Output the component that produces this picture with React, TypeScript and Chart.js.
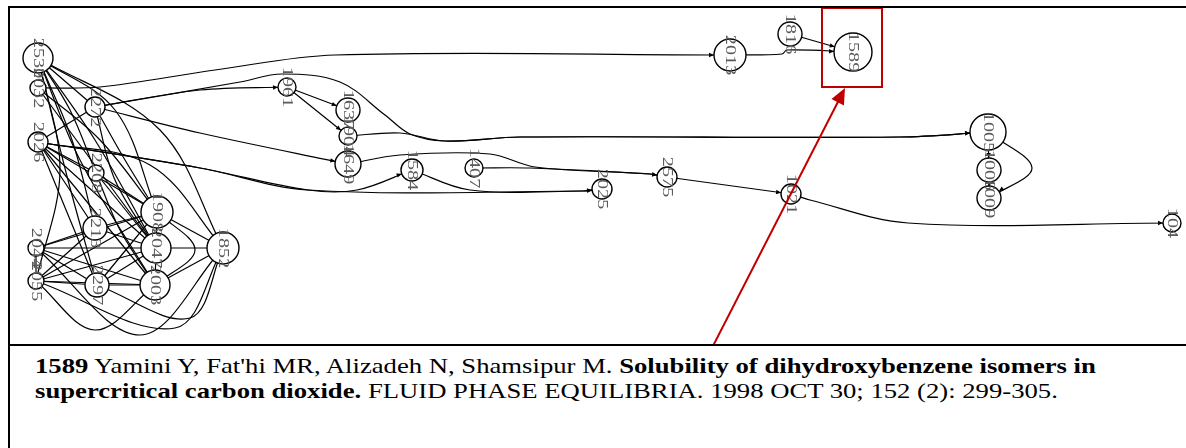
import React, { useEffect, useRef } from 'react';
import { Chart, registerables } from 'chart.js';

Chart.register(...registerables);

// ---- Node data (network layout) ----
const nodeLabels = ['2530', '2032', '2026', '2044', '2055', '2272', '2208', '2213', '2297', '1908', '2047', '2003', '1852',
  '1961', '1637', '1904', '1649', '1584', '1407', '2025', '2575', '1021', '2013', '1816', '1589', '1005', '1006', '1009', '104'];
const nodeX = [38, 38, 38, 36, 36, 95, 96, 95, 97, 157, 156, 155, 223,
  287, 348, 348, 348, 412, 474, 602, 667, 791, 730, 790, 853, 988, 989, 989, 1172];
const nodeY = [58, 88, 142, 248, 281, 107, 173, 228, 285, 212, 248, 285, 248,
  87, 110, 136, 164, 170, 168, 189, 177, 194, 55, 34, 52, 132, 170, 198, 223];
const nodeSize = [15, 8, 10, 8, 8, 10, 8, 12, 12, 16, 15, 15, 16,
  9, 12, 9, 13, 11, 9, 10, 10, 10, 16, 12, 19, 18, 12, 12, 9];

// ---- Edges: [from, to, routing points] ----
const longEdges: [string, string, number[][]][] = [
  ['2032', '2013', [[100, 87], [215, 70], [335, 55]]],
  ['2272', '1961', [[200, 90]]],
  ['2272', '1005', [[240, 82], [282, 74], [340, 82], [385, 115], [410, 134], [445, 141], [520, 137], [900, 137]]],
  ['1961', '1637', []],
  ['1961', '1904', []],
  ['1904', '1005', [[400, 133], [445, 141], [520, 137], [900, 137]]],
  ['2272', '1649', [[200, 133]]],
  ['1649', '2575', [[400, 155], [490, 154], [535, 167], [650, 174]]],
  ['1407', '2575', [[530, 168], [650, 174]]],
  ['2026', '2025', [[200, 168], [308, 190], [583, 191]]],
  ['2026', '1584', [[200, 168], [308, 190], [357, 190]]],
  ['1584', '2025', [[470, 190], [583, 191]]],
  ['2575', '1021', []],
  ['1021', '104', [[810, 200], [908, 223]]],
  ['2013', '1589', [[782, 54], [787, 50]]],
  ['1816', '1589', []],
  ['1005', '1006', []],
  ['1006', '1009', []],
  ['1005', '1009', [[1032, 168]]],
];

const clusterEdges: [string, string, number[][]][] = [
  ['2530', '2272', []],
  ['2530', '2208', [[70, 110]]],
  ['2530', '2213', [[72, 140]]],
  ['2530', '2297', [[68, 180]]],
  ['2530', '1908', [[115, 110]]],
  ['2530', '2047', [[95, 140]]],
  ['2530', '2003', [[80, 160]]],
  ['2530', '2055', [[60, 170]]],
  ['2530', '1852', [[160, 130]]],
  ['2032', '1908', [[100, 140]]],
  ['2032', '2047', []],
  ['2026', '2272', []],
  ['2026', '2208', []],
  ['2026', '2213', []],
  ['2026', '2297', []],
  ['2026', '1908', []],
  ['2026', '2047', []],
  ['2026', '2003', []],
  ['2026', '1852', [[150, 165]]],
  ['2044', '2055', []],
  ['2044', '2213', []],
  ['2044', '2297', []],
  ['2044', '1908', []],
  ['2044', '2047', []],
  ['2044', '2003', []],
  ['2044', '1852', [[140, 335]]],
  ['2055', '2213', []],
  ['2055', '2297', []],
  ['2055', '1908', []],
  ['2055', '2047', []],
  ['2055', '2003', []],
  ['2055', '1852', [[175, 328]]],
  ['2055', '2003', [[95, 330]]],
  ['2208', '1908', []],
  ['2208', '2047', []],
  ['2208', '2003', [[120, 230]]],
  ['2213', '1908', []],
  ['2213', '2047', []],
  ['2297', '2003', []],
  ['2297', '2047', []],
  ['2297', '1908', []],
  ['2297', '1852', [[190, 318]]],
  ['1908', '2047', []],
  ['2047', '2003', []],
  ['1908', '1852', []],
  ['2047', '1852', []],
  ['2003', '1852', []],
  ['1908', '2003', [[195, 250]]],
  ['2272', '1908', [[125, 160]]],
  ['2272', '2047', [[115, 180]]],
];

const captionNumber = '1589';
const captionAuthors = " Yamini Y, Fat'hi MR, Alizadeh N, Shamsipur M. ";
const captionTitle1 = 'Solubility of dihydroxybenzene isomers in';
const captionTitle2 = 'supercritical carbon dioxide.';
const captionSource = ' FLUID PHASE EQUILIBRIA. 1998 OCT 30; 152 (2): 299-305.';

const highlighted = '1589';
const RED = '#c00000';

function idx(label: string) {
  return nodeLabels.indexOf(label);
}

const overlayPlugin = {
  id: 'graphOverlay',
  afterDatasetsDraw(chart: any) {
    const ctx = chart.ctx;
    const xs = chart.scales.x;
    const ys = chart.scales.y;
    // arrowheads on the routed links
    ctx.save();
    ctx.fillStyle = '#000';
    longEdges.forEach(([f, t, via]) => {
      const ti = idx(t);
      const fi = idx(f);
      const prev = via.length ? via[via.length - 1] : [nodeX[fi], nodeY[fi]];
      const tx = xs.getPixelForValue(nodeX[ti]);
      const ty = ys.getPixelForValue(nodeY[ti]);
      const px = xs.getPixelForValue(prev[0]);
      const py = ys.getPixelForValue(prev[1]);
      const ang = Math.atan2(ty - py, tx - px);
      const r = nodeSize[ti];
      const ex = tx - Math.cos(ang) * r;
      const ey = ty - Math.sin(ang) * r;
      ctx.save();
      ctx.translate(ex, ey);
      ctx.rotate(ang);
      ctx.beginPath();
      ctx.moveTo(0, 0);
      ctx.lineTo(-5, -2.2);
      ctx.lineTo(-5, 2.2);
      ctx.closePath();
      ctx.fill();
      ctx.restore();
    });
    ctx.restore();
    // rotated labels
    ctx.save();
    ctx.fillStyle = '#5a5a5a';
    ctx.font = '15px "Liberation Serif", serif';
    ctx.textAlign = 'center';
    ctx.textBaseline = 'middle';
    nodeLabels.forEach((t, i) => {
      const px = xs.getPixelForValue(nodeX[i]);
      const py = ys.getPixelForValue(nodeY[i]);
      ctx.save();
      ctx.translate(px, py);
      ctx.rotate(Math.PI / 2);
      ctx.scale(1.35, 1);
      ctx.fillText(t, 0, 0);
      ctx.restore();
    });
    ctx.restore();
  },
  afterDraw(chart: any) {
    const ctx = chart.ctx;
    const xs = chart.scales.x;
    const ys = chart.scales.y;
    const hi = idx(highlighted);
    const cx = nodeX[hi];
    const cy = nodeY[hi];
    const x0 = xs.getPixelForValue(cx - 31);
    const x1 = xs.getPixelForValue(cx + 29);
    const y0 = ys.getPixelForValue(cy - 44);
    const y1 = ys.getPixelForValue(cy + 35);
    ctx.save();
    ctx.strokeStyle = RED;
    ctx.fillStyle = RED;
    ctx.lineWidth = 2;
    ctx.strokeRect(x0, y0, x1 - x0, y1 - y0);
    // arrow from caption to box
    const sx = xs.getPixelForValue(713);
    const sy = chart.height + 2;
    const tx = xs.getPixelForValue(cx - 8);
    const ty = y1 + 1;
    const ang = Math.atan2(ty - sy, tx - sx);
    ctx.beginPath();
    ctx.moveTo(sx, sy);
    ctx.lineTo(tx - Math.cos(ang) * 12, ty - Math.sin(ang) * 12);
    ctx.stroke();
    ctx.translate(tx, ty);
    ctx.rotate(ang);
    ctx.beginPath();
    ctx.moveTo(0, 0);
    ctx.lineTo(-16, -7);
    ctx.lineTo(-16, 7);
    ctx.closePath();
    ctx.fill();
    ctx.restore();
  },
};

function NetworkChart() {
  const ref = useRef<HTMLCanvasElement | null>(null);
  useEffect(() => {
    if (!ref.current) return;
    const nodeData = nodeX.map((x, i) => ({ x, y: nodeY[i] }));
    const edgeSets = [...longEdges, ...clusterEdges].map(([f, t, via]) => {
      const fi = idx(f);
      const ti = idx(t);
      const pts = [{ x: nodeX[fi], y: nodeY[fi] }, ...via.map((p) => ({ x: p[0], y: p[1] })), { x: nodeX[ti], y: nodeY[ti] }];
      return {
        type: 'line' as const,
        data: pts,
        borderColor: '#000',
        borderWidth: 1.2,
        pointRadius: 0,
        tension: 0.35,
        fill: false,
        order: 1,
      };
    });
    const chart = new Chart(ref.current, {
      type: 'scatter',
      data: {
        datasets: [
          {
            type: 'scatter',
            data: nodeData,
            pointRadius: nodeSize,
            pointHoverRadius: nodeSize,
            pointBackgroundColor: '#fff',
            pointBorderColor: '#000',
            pointBorderWidth: 1.4,
            order: 0,
          } as any,
          ...(edgeSets as any[]),
        ],
      },
      options: {
        animation: false,
        responsive: false,
        maintainAspectRatio: false,
        events: [],
        layout: { padding: 0, autoPadding: false },
        plugins: { legend: { display: false }, tooltip: { enabled: false } },
        scales: {
          x: { type: 'linear', min: 10, max: 1186, display: false },
          y: { type: 'linear', min: 8, max: 344, reverse: true, display: false },
        },
      },
      plugins: [overlayPlugin],
    });
    return () => chart.destroy();
  }, []);
  return <canvas ref={ref} width={1176} height={336} style={{ display: 'block', width: 1176, height: 336 }} />;
}

export default function App() {
  return (
    <div style={{ position: 'absolute', left: 0, top: 0, width: 1186, height: 448, overflow: 'hidden', background: '#fff' }}>
      <div style={{ position: 'absolute', left: 8, top: 6, width: 1200, height: 448, borderLeft: '2px solid #000' }} />
      <div style={{ position: 'absolute', left: 8, top: 6, width: 1200, height: 336, borderTop: '2px solid #000', borderBottom: '2px solid #000' }} />
      <div style={{ position: 'absolute', left: 10, top: 8 }}>
        <NetworkChart />
      </div>
      <div style={{ position: 'absolute', left: 35, top: 354, fontFamily: '"Liberation Serif", "Times New Roman", serif', fontSize: 21, lineHeight: '25px', whiteSpace: 'nowrap', color: '#000', transform: 'scaleX(1.27)', transformOrigin: '0 0' }}>
        <b>{captionNumber}</b>{captionAuthors}<b>{captionTitle1}</b>
        <br />
        <b>{captionTitle2}</b>{captionSource}
      </div>
    </div>
  );
}
